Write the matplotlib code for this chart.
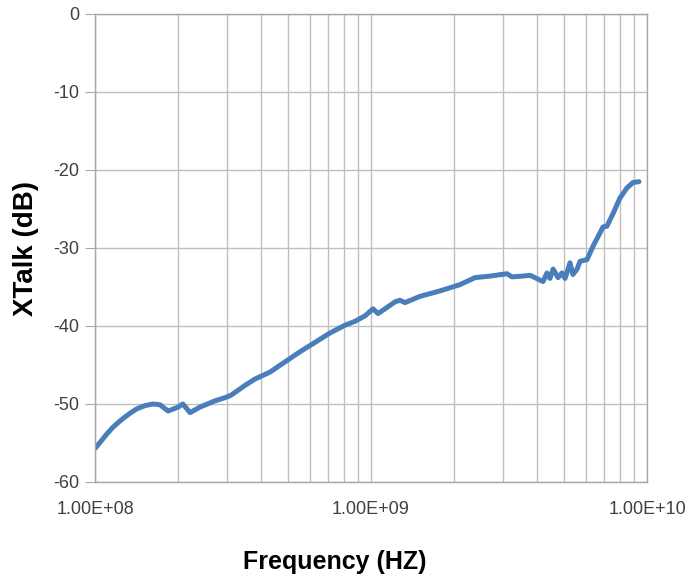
import matplotlib
matplotlib.use("Agg")
import matplotlib.pyplot as plt
from matplotlib.ticker import LogLocator, FixedLocator, FuncFormatter, NullFormatter

# crosstalk curve
freq_hz = [1.00e8, 1.05e8, 1.10e8, 1.16e8, 1.22e8, 1.28e8, 1.35e8, 1.42e8, 1.52e8, 1.62e8,
           1.72e8, 1.84e8, 2.00e8, 2.08e8, 2.21e8, 2.40e8, 2.72e8, 2.95e8, 3.10e8, 3.22e8,
           3.50e8, 3.80e8, 4.31e8, 4.88e8, 5.53e8, 6.27e8, 7.10e8, 8.05e8, 8.75e8, 9.51e8,
           1.017e9, 1.06e9, 1.124e9, 1.222e9, 1.274e9, 1.328e9, 1.505e9, 1.778e9, 2.10e9, 2.38e9,
           2.70e9, 3.11e9, 3.24e9, 3.55e9, 3.77e9, 4.20e9, 4.34e9, 4.45e9, 4.57e9, 4.76e9,
           4.92e9, 5.05e9, 5.26e9, 5.39e9, 5.58e9, 5.72e9, 6.06e9, 6.37e9, 6.93e9, 7.16e9,
           7.53e9, 7.98e9, 8.46e9, 8.90e9, 9.35e9]
xtalk_db = [-55.7, -54.8, -53.9, -53.0, -52.3, -51.7, -51.1, -50.6, -50.2, -50.0,
            -50.1, -50.9, -50.4, -50.0, -51.1, -50.4, -49.6, -49.2, -48.9, -48.5,
            -47.6, -46.8, -45.9, -44.6, -43.3, -42.1, -40.9, -39.9, -39.4, -38.7,
            -37.8, -38.4, -37.8, -36.9, -36.7, -37.0, -36.2, -35.5, -34.7, -33.8,
            -33.6, -33.3, -33.7, -33.6, -33.5, -34.3, -33.2, -33.9, -32.7, -33.8,
            -33.2, -33.9, -31.9, -33.4, -32.7, -31.7, -31.5, -29.8, -27.3, -27.2,
            -25.6, -23.6, -22.3, -21.6, -21.5]

y_ticks = [0, -10, -20, -30, -40, -50, -60]

plt.rcParams['font.family'] = ['Liberation Sans', 'DejaVu Sans']
plt.rcParams['axes.unicode_minus'] = False

fig = plt.figure(figsize=(6.9, 5.78), dpi=100)
ax = fig.add_axes([95/690, 1 - 482/578, (647-95)/690, (482-14)/578])

ax.plot(freq_hz, xtalk_db, color='#4a7ebb', lw=3.6, solid_capstyle='round', solid_joinstyle='round')

ax.set_xscale('log')
ax.set_xlim(1e8, 1e10)
ax.set_ylim(-60, 0)
ax.yaxis.set_major_locator(FixedLocator(y_ticks))
ax.xaxis.set_major_locator(LogLocator(base=10))
ax.xaxis.set_minor_locator(LogLocator(base=10, subs=range(2, 10)))
ax.xaxis.set_major_formatter(FuncFormatter(lambda v, p: '%.2E' % v))
ax.xaxis.set_minor_formatter(NullFormatter())

ax.grid(True, which='both', color='#bfbfbf', lw=1.0)
for s in ax.spines.values():
    s.set_color('#a6a6a6')
    s.set_linewidth(1.0)

ax.tick_params(axis='y', length=7, color='#a6a6a6', labelsize=13, labelcolor='#404040', pad=4)
ax.tick_params(axis='x', which='both', length=0, labelsize=13, labelcolor='#404040', pad=14)

ax.set_ylabel('XTalk (dB)', fontsize=20, fontweight='bold')
ax.yaxis.set_label_coords(-0.102, 0.5)
ax.set_xlabel('Frequency (HZ)', fontsize=18, fontweight='bold')
ax.xaxis.set_label_coords((335-95)/(647-95), -0.145)

fig.savefig('out.png', dpi=100)
